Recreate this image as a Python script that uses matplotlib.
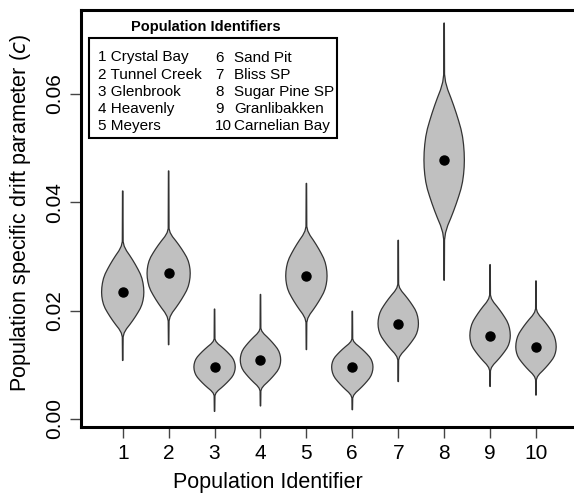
import numpy as np
import matplotlib
matplotlib.use("Agg")
import matplotlib.pyplot as plt
from matplotlib.patches import Rectangle

plt.rcParams['font.family'] = ['Liberation Sans', 'DejaVu Sans']

# population ids and names
pop_ids = np.arange(1, 11)
pop_names = ['Crystal Bay', 'Tunnel Creek', 'Glenbrook', 'Heavenly', 'Meyers',
             'Sand Pit', 'Bliss SP', 'Sugar Pine SP', 'Granlibakken', 'Carnelian Bay']

# violin summary (drift parameter c)
med = [0.0234, 0.0269, 0.0096, 0.0109, 0.0264, 0.0096, 0.0176, 0.0478, 0.0154, 0.0133]
tip_hi = [0.0421, 0.0458, 0.0203, 0.0230, 0.0435, 0.0199, 0.0330, 0.0731, 0.0285, 0.0255]
tip_lo = [0.0108, 0.0137, 0.0014, 0.0024, 0.0128, 0.0017, 0.0069, 0.0256, 0.0060, 0.0044]
neck_hi = [0.0319, 0.0344, 0.0143, 0.0162, 0.0347, 0.0143, 0.0242, 0.0622, 0.0222, 0.0197]
neck_lo = [0.0159, 0.0189, 0.0048, 0.0057, 0.0186, 0.0044, 0.0115, 0.0344, 0.0095, 0.0078]
half_w = [0.46, 0.47, 0.45, 0.44, 0.45, 0.45, 0.44, 0.44, 0.44, 0.44]

# common violin outline (fraction of half width vs fraction of peak->neck distance)
prof_t = [0.0, 0.1, 0.2, 0.3, 0.4, 0.5, 0.6, 0.7, 0.8, 0.9, 1.0, 1.1]
prof_w = [1.0, 0.99, 0.96, 0.91, 0.83, 0.72, 0.60, 0.47, 0.33, 0.18, 0.07, 0.02]
tail_w = 0.005

fig = plt.figure(figsize=(5.74, 4.94), dpi=100)
ax = fig.add_axes([81 / 574, 1 - 427 / 494, 1 - 81 / 574, (427 - 10) / 494])

tt = np.linspace(0, 1.1, 80)
ww = np.interp(tt, prof_t, prof_w)
for i in range(10):
    x0 = pop_ids[i]
    hw = half_w[i]
    y_up = med[i] + tt * (neck_hi[i] - med[i])
    y_dn = med[i] - tt * (med[i] - neck_lo[i])
    w = np.maximum(ww * hw, tail_w)
    ys = np.concatenate([[tip_lo[i]], y_dn[::-1], y_up[1:], [tip_hi[i]]])
    ws = np.concatenate([[tail_w], w[::-1], w[1:], [tail_w]])
    px = np.concatenate([x0 + ws, (x0 - ws)[::-1]])
    py = np.concatenate([ys, ys[::-1]])
    ax.fill(px, py, facecolor='#c0c0c0', edgecolor='#333333', lw=0.9, zorder=2)
    ax.plot(x0, med[i], 'o', color='black', ms=6.5, zorder=3)

ax.set_xlim(1 - 41.7 / 45.9, 10 + 38 / 45.9)
ax.set_ylim(-0.00148, 0.0755)
ax.set_xticks(pop_ids)
ax.set_yticks([0.0, 0.02, 0.04, 0.06])
ax.set_yticklabels(['0.00', '0.02', '0.04', '0.06'], rotation=90, va='center')
ax.tick_params(direction='out', length=8, width=1, color='#444444', labelsize=15, pad=4)
for s in ['left', 'bottom', 'top']:
    ax.spines[s].set_linewidth(2.2)
ax.spines['right'].set_visible(False)

fig.text(21 / 574, 1 - 213 / 494, 'Population specific drift parameter ($\\mathit{c}$)',
         rotation=90, ha='center', va='center', fontsize=15.5)
fig.text(268 / 574, 1 - 482 / 494, 'Population Identifier', ha='center', va='center', fontsize=15.5)

# legend box drawn by hand
fig.text(206 / 574, 1 - 27 / 494, 'Population Identifiers', ha='center', va='center',
         fontsize=10.5, fontweight='bold')
fig.patches.append(Rectangle((89 / 574, 1 - 138 / 494), (337 - 89) / 574, 100 / 494,
                             transform=fig.transFigure, fill=False, lw=1.5, ec='black'))
for k in range(5):
    yy = 1 - (57.5 + 17.2 * k) / 494
    fig.text(98 / 574, yy, f'{pop_ids[k]} {pop_names[k]}', ha='left', va='center', fontsize=11)
    fig.text(215 / 574, yy, f'{pop_ids[k + 5]}', ha='left', va='center', fontsize=11)
    fig.text(234 / 574, yy, pop_names[k + 5], ha='left', va='center', fontsize=11)

fig.savefig('out.png', dpi=100)
